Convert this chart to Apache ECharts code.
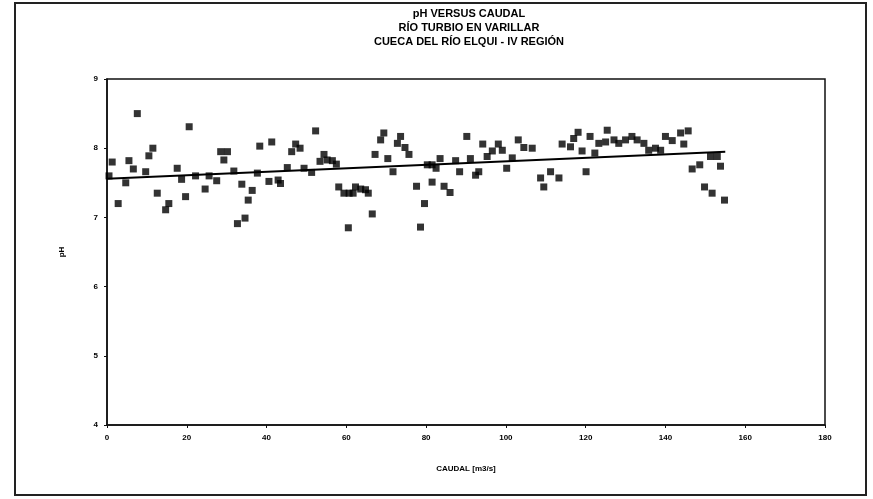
<!DOCTYPE html>
<html>
<head>
<meta charset="utf-8">
<script src="https://cdn.jsdelivr.net/npm/echarts@6/dist/echarts.min.js"></script>
<style>html,body{margin:0;padding:0;background:#fff}#c{width:873px;height:499px}</style>
</head>
<body>
<div id="c"></div>
<script>
var titleLines = ['pH VERSUS CAUDAL', 'RÍO TURBIO EN VARILLAR', 'CUECA DEL RÍO ELQUI - IV REGIÓN'];
var xName = 'CAUDAL [m3/s]';
var yName = 'pH';
var caudal = [0.5,1.3,2.8,4.7,5.5,6.6,7.6,9.7,10.5,11.5,12.6,14.7,15.5,17.6,18.7,19.7,20.6,22.2,24.6,25.6,27.5,28.5,29.3,30.2,31.8,32.7,33.8,34.6,35.4,36.4,37.7,38.3,40.6,41.3,42.9,43.5,45.2,46.3,47.3,48.4,49.4,51.3,52.3,53.4,54.4,55.2,56.5,57.5,58.1,59.4,60.5,60.7,61.7,62.3,63.6,64.8,65.5,66.5,67.2,68.6,69.4,70.4,71.7,72.8,73.6,74.7,75.7,77.6,78.6,79.6,80.3,81.5,81.5,82.5,83.5,84.5,86.0,87.4,88.4,90.2,91.1,92.4,93.2,94.2,95.3,96.6,98.1,99.1,100.2,101.6,103.1,104.5,106.6,108.7,109.5,111.2,113.3,114.1,116.2,117.0,118.1,119.1,120.1,121.1,122.3,123.3,125.0,125.4,127.1,128.3,130.0,131.6,132.9,134.6,135.8,137.5,138.8,140.0,141.7,143.8,144.6,145.7,146.7,148.6,149.8,151.3,151.7,153.0,153.8,154.8];
var ph = [7.60,7.80,7.20,7.50,7.82,7.70,8.50,7.66,7.89,8.00,7.35,7.11,7.20,7.71,7.55,7.30,8.31,7.60,7.41,7.60,7.53,7.95,7.83,7.95,7.67,6.91,7.48,6.99,7.25,7.39,7.64,8.03,7.52,8.09,7.54,7.49,7.72,7.95,8.06,8.00,7.71,7.65,8.25,7.81,7.91,7.83,7.82,7.77,7.44,7.35,6.85,7.35,7.35,7.44,7.41,7.40,7.35,7.05,7.91,8.12,8.22,7.85,7.66,8.07,8.17,8.01,7.91,7.45,6.86,7.20,7.76,7.76,7.51,7.71,7.85,7.45,7.36,7.82,7.66,8.17,7.85,7.61,7.66,8.06,7.88,7.96,8.06,7.97,7.71,7.86,8.12,8.01,8.00,7.57,7.44,7.66,7.57,8.06,8.02,8.14,8.23,7.96,7.66,8.17,7.93,8.07,8.09,8.26,8.12,8.07,8.12,8.17,8.12,8.07,7.97,8.00,7.97,8.17,8.11,8.22,8.06,8.25,7.70,7.76,7.44,7.88,7.35,7.88,7.74,7.25];
var trendX = [0, 155];
var trendY = [7.56, 7.95];

var pts = caudal.map(function (x, i) { return [x, ph[i]]; });
var trend = trendX.map(function (x, i) { return [x, trendY[i]]; });

var chart = echarts.init(document.getElementById('c'));
var FONT = 'Liberation Sans';
chart.setOption({
  backgroundColor: '#fff',
  animation: false,
  grid: {left: 107, top: 79, width: 718, height: 346, show: true, borderColor: '#111', borderWidth: 1.5, backgroundColor: 'transparent'},
  graphic: [
    {type: 'rect', shape: {x: 15, y: 3, width: 851, height: 492}, style: {fill: 'none', stroke: '#222', lineWidth: 2}},
    {type: 'text', x: 469, y: 7, style: {text: titleLines.join('\n'), textAlign: 'center', fontFamily: FONT, fontWeight: 'bold', fontSize: 11, lineHeight: 14, fill: '#000'}}
  ],
  xAxis: {
    type: 'value', min: 0, max: 180, interval: 20,
    name: xName, nameLocation: 'middle', nameGap: 40,
    nameTextStyle: {fontFamily: FONT, fontWeight: 'bold', fontSize: 8, color: '#000'},
    axisLine: {show: true, lineStyle: {color: '#111', width: 1.5}},
    axisTick: {show: true, length: 3, lineStyle: {color: '#111'}},
    axisLabel: {fontFamily: FONT, fontWeight: 'bold', fontSize: 8, color: '#000', margin: 9},
    splitLine: {show: false}
  },
  yAxis: {
    type: 'value', min: 4, max: 9, interval: 1,
    name: yName, nameLocation: 'middle', nameGap: 41,
    nameTextStyle: {fontFamily: FONT, fontWeight: 'bold', fontSize: 8, color: '#000'},
    axisLine: {show: true, lineStyle: {color: '#111', width: 1.5}},
    axisTick: {show: true, length: 3, lineStyle: {color: '#111'}},
    axisLabel: {fontFamily: FONT, fontWeight: 'bold', fontSize: 8, color: '#000', margin: 9},
    splitLine: {show: false}
  },
  series: [
    {type: 'scatter', data: pts, symbol: 'rect', symbolSize: 7, itemStyle: {color: '#000'}},
    {type: 'line', data: trend, symbol: 'none', lineStyle: {color: '#000', width: 2}}
  ]
});
</script>
</body>
</html>
